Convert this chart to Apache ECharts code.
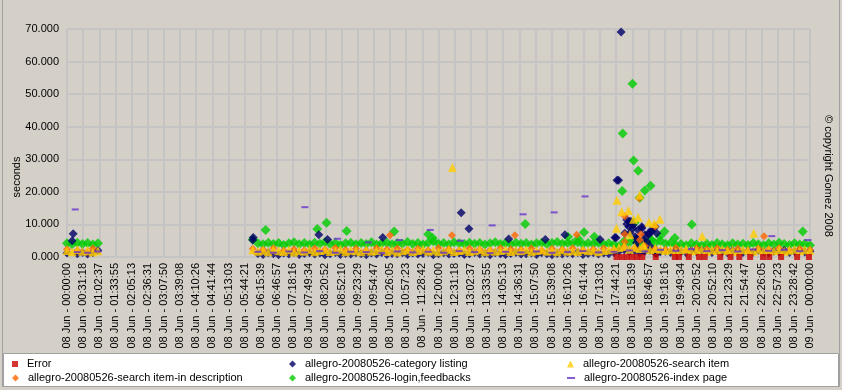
<!DOCTYPE html>
<html><head><meta charset="utf-8">
<script src="https://cdn.jsdelivr.net/npm/echarts@6/dist/echarts.min.js"></script>
<style>html,body{margin:0;padding:0;background:#D4D0C8}#c{width:842px;height:390px}</style>
</head><body><div id="c"></div>
<script>
// ---- tick labels (47 ticks, every 31m18s) ----
const tickLabels = [
 '08 Jun - 00:00:00','08 Jun - 00:31:18','08 Jun - 01:02:37','08 Jun - 01:33:55','08 Jun - 02:05:13',
 '08 Jun - 02:36:31','08 Jun - 03:07:50','08 Jun - 03:39:08','08 Jun - 04:10:26','08 Jun - 04:41:44',
 '08 Jun - 05:13:03','08 Jun - 05:44:21','08 Jun - 06:15:39','08 Jun - 06:46:57','08 Jun - 07:18:16',
 '08 Jun - 07:49:34','08 Jun - 08:20:52','08 Jun - 08:52:10','08 Jun - 09:23:29','08 Jun - 09:54:47',
 '08 Jun - 10:26:05','08 Jun - 10:57:23','08 Jun - 11:28:42','08 Jun - 12:00:00','08 Jun - 12:31:18',
 '08 Jun - 13:02:37','08 Jun - 13:33:55','08 Jun - 14:05:13','08 Jun - 14:36:31','08 Jun - 15:07:50',
 '08 Jun - 15:39:08','08 Jun - 16:10:26','08 Jun - 16:41:44','08 Jun - 17:13:03','08 Jun - 17:44:21',
 '08 Jun - 18:15:39','08 Jun - 18:46:57','08 Jun - 19:18:16','08 Jun - 19:49:34','08 Jun - 20:20:52',
 '08 Jun - 20:52:10','08 Jun - 21:23:29','08 Jun - 21:54:47','08 Jun - 22:26:05','08 Jun - 22:57:23',
 '08 Jun - 23:28:42','09 Jun - 00:00:00'
];
const yTicks = [0, 10, 20, 30, 40, 50, 60, 70];

// ---- sample times (minutes after 08 Jun 00:00) ----
const sampleMinutes = [
 0,10,20,30,40,50,60,
 360,370,380,390,400,410,420,430,440,450,
 460,470,480,490,500,510,520,530,540,550,
 560,570,580,590,600,610,620,630,640,650,
 660,670,680,690,700,710,720,730,740,750,
 760,770,780,790,800,810,820,830,840,850,
 860,870,880,890,900,910,920,930,940,950,
 960,970,980,990,1000,1010,1020,1030,1040,1050,
 1060,1070,1080,1090,1100,1110,1120,1130,1140,1150,
 1160,1170,1180,1190,1200,1210,1220,1230,1240,1250,
 1260,1270,1280,1290,1300,1310,1320,1330,1340,1350,
 1360,1370,1380,1390,1400,1410,1420,1430,1440
];

// ---- series values (seconds) at sampleMinutes ----
const loginFeedbacks = [
 4.2,3.9,4.4,4.0,4.3,3.8,4.2,
 5.4,4.2,3.9,4.4,4.0,4.3,3.7,4.2,4.5,3.9,
 4.3,3.8,4.4,4.1,4.6,4.0,4.3,3.7,4.2,4.4,
 3.9,4.3,4.0,4.5,3.8,4.2,4.4,3.9,4.3,4.1,
 4.6,4.0,4.3,3.8,4.4,4.8,4.1,4.3,3.9,4.5,
 4.2,4.0,4.4,4.1,4.3,3.8,4.2,4.5,4.0,4.3,
 3.9,4.4,4.1,4.3,3.8,4.2,4.4,4.0,4.3,4.6,
 4.1,4.4,4.2,4.5,4.0,4.3,4.1,4.4,3.9,4.2,
 3.8,3.4,4.8,4.4,5.2,4.0,4.6,5.4,4.3,5.0,
 4.1,4.4,3.7,4.0,3.6,4.2,3.8,3.5,4.1,3.7,
 4.3,3.9,3.6,4.2,3.8,4.1,3.7,4.3,3.9,3.6,
 4.2,3.8,4.4,4.0,3.7,4.2,3.8,4.1,3.6
];
const categoryListing = [
 1.2,5.0,1.0,1.4,0.9,1.3,2.0,
 5.2,1.1,0.8,1.3,1.0,0.7,1.2,0.9,1.4,0.8,
 1.1,1.3,0.9,1.2,0.7,1.0,1.4,0.8,1.1,0.9,
 1.3,1.0,0.7,1.2,0.9,1.4,0.8,1.1,1.0,1.3,
 0.8,1.2,0.9,1.1,1.4,0.7,1.0,1.3,0.9,1.1,
 1.2,0.8,1.0,1.4,0.9,1.1,0.7,1.3,1.0,0.8,
 1.1,1.4,0.9,1.0,1.2,0.8,1.3,1.0,0.7,1.1,
 0.9,1.2,1.0,1.4,0.8,1.1,1.3,0.9,1.2,1.0,
 1.4,1.8,2.2,1.6,2.0,1.3,1.7,2.1,1.2,1.6,
 1.8,1.4,2.0,1.6,1.3,1.9,1.5,2.1,1.7,1.4,
 1.9,1.6,1.3,2.0,1.7,1.4,1.8,1.5,2.1,1.6,
 1.3,1.8,1.5,2.0,1.4,1.7,1.9,1.5,1.8
];
const searchItem = [
 2.0,1.6,2.3,1.8,2.1,1.5,1.9,
 2.2,1.8,2.1,1.6,2.3,1.9,1.7,2.2,1.5,2.0,
 1.8,2.3,1.6,2.0,2.2,1.7,1.9,2.4,1.6,2.1,
 1.9,1.6,2.2,1.8,2.0,2.3,1.7,2.1,1.5,1.9,
 2.2,1.7,2.0,2.4,1.8,2.1,1.6,1.9,2.3,1.7,
 2.0,2.2,1.7,1.9,2.3,1.6,2.1,1.8,2.0,2.2,
 1.7,2.1,1.9,2.3,1.6,2.0,2.2,1.8,2.1,1.6,
 2.2,1.8,2.0,1.7,2.3,1.9,2.1,1.6,2.0,2.2,
 2.5,2.9,3.2,2.4,3.0,2.6,2.8,2.2,2.6,2.4,
 2.0,2.3,1.8,2.2,2.5,1.9,2.1,2.4,1.8,2.2,
 2.0,2.4,1.9,2.2,1.7,2.3,2.1,1.8,2.4,2.0,
 2.2,1.9,2.3,1.8,2.1,2.4,1.9,2.2,2.0
];
const searchInDescription = [
 2.4,null,2.0,null,1.6,2.6,null,
 2.5,null,2.2,null,2.7,null,2.0,null,2.4,null,
 2.1,null,2.6,null,2.3,null,2.8,null,2.2,null,
 2.5,null,2.0,null,2.7,null,2.3,null,2.6,null,
 2.2,null,2.5,null,2.1,null,2.8,null,2.4,null,
 2.0,null,2.6,null,2.3,null,2.1,null,2.7,null,
 2.4,null,2.2,null,2.6,null,2.0,null,2.5,null,
 2.3,null,2.7,null,2.1,null,2.4,null,2.6,null,
 2.2,null,3.1,null,2.7,null,3.4,null,2.5,null,
 2.3,null,2.8,null,2.1,null,2.6,null,2.4,null,
 2.7,null,2.2,null,2.5,null,2.0,null,2.6,null,
 2.3,null,2.7,null,2.1,null,2.5,null,2.2
];
const indexPage = [
 null,null,1.5,null,1.3,null,1.7,
 null,1.6,null,null,1.3,null,null,1.7,null,null,
 1.4,null,null,1.8,null,null,1.3,null,null,1.6,
 null,null,1.5,null,null,1.2,null,null,1.7,null,
 null,1.4,null,null,1.6,null,null,1.3,null,null,
 1.8,null,null,1.5,null,null,1.2,null,null,1.6,
 null,null,1.4,null,null,1.7,null,null,1.3,null,
 null,1.5,null,null,1.8,null,null,1.4,null,null,
 1.6,null,null,2.0,null,null,1.7,null,null,2.2,
 null,null,1.9,null,null,2.4,null,null,1.8,null,
 null,2.1,null,null,1.7,null,null,2.3,null,null,
 1.9,null,null,2.2,null,null,1.8,null,null
];

// ---- individual readings off the band: [minute, seconds] ----
const loginExtra = [
 [385,8.3],[485,8.6],[503,10.5],[542,8.0],[634,7.8],[700,7.0],[709,5.8],[888,10.1],
 [971,6.2],[991,5.6],[1002,7.6],[1022,6.2],
 [1076,20.3],[1077,37.9],[1096,53.2],[1098,29.6],[1100,10.5],[1107,26.5],[1110,18.2],
 [1120,20.4],[1131,21.9],[1133,5.2],[1149,6.4],[1158,7.8],[1178,5.8],[1211,10.0],[1426,7.8]
];
const categoryExtra = [
 [12,7.1],[361,6.0],[488,6.8],[505,5.4],[612,6.0],[764,13.6],[779,8.7],[856,5.5],[927,5.4],
 [965,6.8],[1033,5.4],[1062,6.0],[1064,5.9],[1066,23.6],[1069,23.6],[1074,69.1],
 [1081,7.3],[1085,10.1],[1085,11.4],[1089,9.3],[1091,11.0],[1091,7.4],[1094,10.8],[1097,9.8],
 [1097,8.8],[1101,6.2],[1104,4.4],[1104,5.7],[1107,2.7],[1107,8.3],[1114,8.8],[1114,9.3],
 [1117,1.9],[1117,5.2],[1120,6.8],[1124,4.7],[1127,7.3],[1127,6.8],[1130,3.2],[1133,8.3],
 [1133,7.8],[1140,9.3],[1143,1.1],[1143,7.3]
];
const searchItemExtra = [
 [747,27.5],[1065,8.8],[1066,17.4],[1075,13.9],[1088,14.3],[1091,6.8],[1098,11.6],
 [1107,12.1],[1110,19.0],[1117,3.7],[1128,10.7],[1138,10.3],[1149,11.6],[1231,6.4],[1331,7.3]
];
const searchInDescExtra = [
 [626,6.7],[746,6.7],[868,6.7],[988,6.8],[1081,12.5],[1081,7.0],[1081,4.7],[1109,18.0],
 [1110,5.2],[1112,7.0],[1140,9.4],[1351,6.4]
];
const indexPageExtra = [
 [16,14.6],[461,15.3],[524,5.6],[584,4.5],[644,5.2],[704,8.3],[762,5.0],[824,9.7],
 [884,13.1],[944,13.7],[1004,18.6],[1366,6.4],[1436,5.2]
];
const errorMinutes = [1065,1075,1085,1095,1105,1115,1141,1178,1186,1205,1225,1236,1266,1286,1303,1324,1349,1361,1384,1415,1438];
const errorValues  = [0,0,0,0,0,0,0,0,0,0,0,0,0,0,0,0,0,0,0,0,0];

// ---- build ----
const toX = m => m * (tickLabels.length - 1) / 1440;
function fromBase(vals) {
  const out = [];
  vals.forEach((v, i) => { if (v != null && i < sampleMinutes.length) out.push([toX(sampleMinutes[i]), v]); });
  return out;
}
const fromPairs = list => list.map(p => [toX(p[0]), p[1]]);

const FONT = 'Liberation Sans, Arial, sans-serif';
const names = {
  err: 'Error',
  cat: 'allegro-20080526-category listing',
  si: 'allegro-20080526-search item',
  sid: 'allegro-20080526-search item-in description',
  login: 'allegro-20080526-login,feedbacks',
  idx: 'allegro-20080526-index page'
};
const colors = { err:'#CC0000', cat:'#000066', si:'#FFCC00', sid:'#FF6600', login:'#00CC00', idx:'#6633CC' };

function legendAt(name, left, cy, w, h) {
  return {
    data: [name], left: left, top: cy - 5.5, padding: 0, itemWidth: w, itemHeight: h,
    selectedMode: false, orient: 'horizontal',
    textStyle: { fontFamily: FONT, fontSize: 11, color: '#000', padding: [0, 0, 0, 4] }
  };
}

const chart = echarts.init(document.getElementById('c'), null, { renderer: 'canvas' });
chart.setOption({
  animation: false,
  backgroundColor: '#D4D0C8',
  grid: { left: 67, right: 32, top: 29, bottom: 133, containLabel: false },
  xAxis: {
    type: 'value', min: 0, max: tickLabels.length - 1, interval: 1,
    axisLine: { show: false }, axisTick: { show: false },
    splitLine: { show: true, lineStyle: { color: '#c4c4c4', width: 2 } },
    axisLabel: {
      rotate: 90, margin: 6, fontFamily: FONT, fontSize: 11, color: '#000',
      showMinLabel: true, showMaxLabel: true,
      formatter: v => tickLabels[Math.round(v)] || ''
    }
  },
  yAxis: {
    type: 'value', min: yTicks[0], max: yTicks[yTicks.length - 1], interval: 10,
    axisLine: { show: false }, axisTick: { show: false },
    splitLine: { show: true, lineStyle: { color: '#c4c4c4', width: 2 } },
    axisLabel: { margin: 8, fontFamily: FONT, fontSize: 11, color: '#000', formatter: v => v.toFixed(3) }
  },
  legend: [
    legendAt(names.err, 12, 364, 6, 6),
    legendAt(names.cat, 289, 364, 7, 7),
    legendAt(names.si, 567, 364, 7, 7),
    legendAt(names.sid, 12, 378, 7, 7),
    legendAt(names.login, 289, 378, 7, 7),
    legendAt(names.idx, 567, 378, 8, 2)
  ],
  graphic: [
    { type: 'rect', z: 0, shape: { x: 3.5, y: 353.5, width: 835, height: 33 }, style: { fill: '#ffffff', stroke: '#a0a0a0', lineWidth: 1 } },
    { type: 'rect', z: 0, shape: { x: 2.5, y: -0.5, width: 837, height: 387 }, style: { fill: 'none', stroke: '#a0a0a0', lineWidth: 1 } },
    { type: 'text', z: 5, x: 17, y: 177, rotation: Math.PI / 2,
      style: { text: 'seconds', fontFamily: FONT, fontSize: 11, fill: '#000', align: 'center', verticalAlign: 'middle' } },
    { type: 'text', z: 5, x: 828, y: 176, rotation: -Math.PI / 2,
      style: { text: '© copyright Gomez 2008', fontFamily: FONT, fontSize: 11, fill: '#000', align: 'center', verticalAlign: 'middle' } }
  ],
  series: [
    { name: names.login, type: 'scatter', symbol: 'diamond', symbolSize: 10, itemStyle: { color: colors.login },
      data: fromBase(loginFeedbacks).concat(fromPairs(loginExtra)) },
    { name: names.cat, type: 'scatter', symbol: 'diamond', symbolSize: 9, itemStyle: { color: colors.cat },
      data: fromBase(categoryListing).concat(fromPairs(categoryExtra)) },
    { name: names.sid, type: 'scatter', symbol: 'diamond', symbolSize: 8, itemStyle: { color: colors.sid },
      data: fromBase(searchInDescription).concat(fromPairs(searchInDescExtra)) },
    { name: names.si, type: 'scatter', symbol: 'triangle', symbolSize: 9, itemStyle: { color: colors.si },
      data: fromBase(searchItem).concat(fromPairs(searchItemExtra)) },
    { name: names.idx, type: 'scatter', symbol: 'rect', symbolSize: [7, 2], itemStyle: { color: colors.idx },
      data: fromBase(indexPage).concat(fromPairs(indexPageExtra)) },
    { name: names.err, type: 'scatter', symbol: 'rect', symbolSize: 6, clip: false, itemStyle: { color: colors.err },
      data: errorMinutes.map((m, i) => [toX(m), errorValues[i]]) }
  ]
});
</script></body></html>
